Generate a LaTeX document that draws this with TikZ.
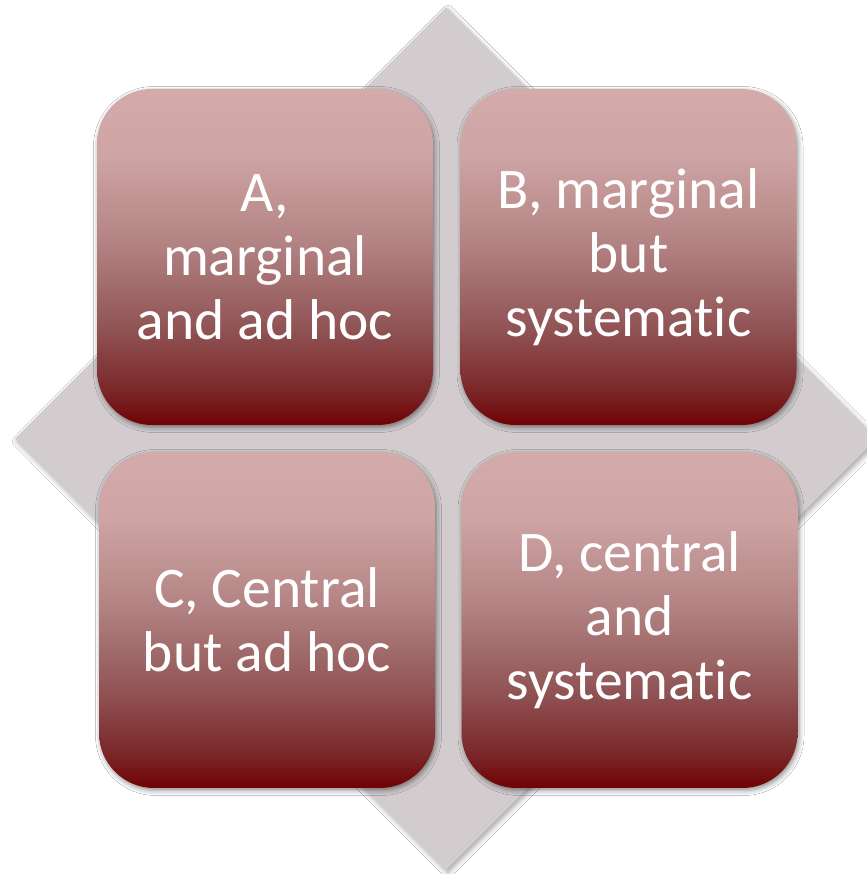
\documentclass[tikz,border=0pt]{standalone}
\usepackage{fontspec}
\setmainfont{Carlito}[Ligatures=NoCommon]
\usetikzlibrary{shapes.geometric,shadows.blur}

% colours of the backdrop and the box gradient (top to bottom)
\definecolor{basegray}{RGB}{210,204,206}
\definecolor{gtop}{RGB}{212,171,171}
\definecolor{gtwo}{RGB}{206,164,164}
\definecolor{gmid}{RGB}{180,132,132}
\definecolor{glow}{RGB}{146,86,87}
\definecolor{gdeep}{RGB}{122,38,40}
\definecolor{gbot}{RGB}{112,2,4}

\pgfdeclareverticalshading{boxshade}{100bp}{%
  color(0bp)=(gbot); color(25bp)=(gbot); color(30bp)=(gdeep);
  color(40bp)=(glow); color(52.5bp)=(gmid); color(65bp)=(gtwo);
  color(75bp)=(gtop); color(100bp)=(gtop)}

\tikzset{
  quadbox/.style={
    shading=boxshade, rounded corners=55pt,
    minimum width=336pt, minimum height=336pt,
    inner sep=0pt, outer sep=0pt,
    text=white, align=center,
    font=\fontsize{57.5}{64}\selectfont,
    blur shadow={shadow xshift=1.5pt, shadow yshift=-2.5pt,
      shadow blur radius=5pt, shadow opacity=45}},
  backdrop/.style={
    diamond, fill=basegray, inner sep=0pt,
    minimum width=862pt, minimum height=863pt,
    blur shadow={shadow xshift=2pt, shadow yshift=-3pt,
      shadow blur radius=5pt, shadow opacity=35}}
}

\begin{document}
\begin{tikzpicture}[x=1pt,y=1pt]
  \useasboundingbox (0,0) rectangle (866,874);
  \fill[white] (0,0) rectangle (866,874);

  % grey square turned on its corner behind the four boxes
  \node[backdrop] (base) at (446,435.5) {};

  \node[quadbox] (a) at (265,617) {A,\\marginal\\and ad hoc};
  \node[quadbox] (b) at (628.5,617) {B, marginal\\but\\systematic};
  \node[quadbox] (c) at (267,254) {C, Central\\but ad hoc};
  \node[quadbox] (d) at (629.5,254) {D, central\\and\\systematic};
\end{tikzpicture}
\end{document}
